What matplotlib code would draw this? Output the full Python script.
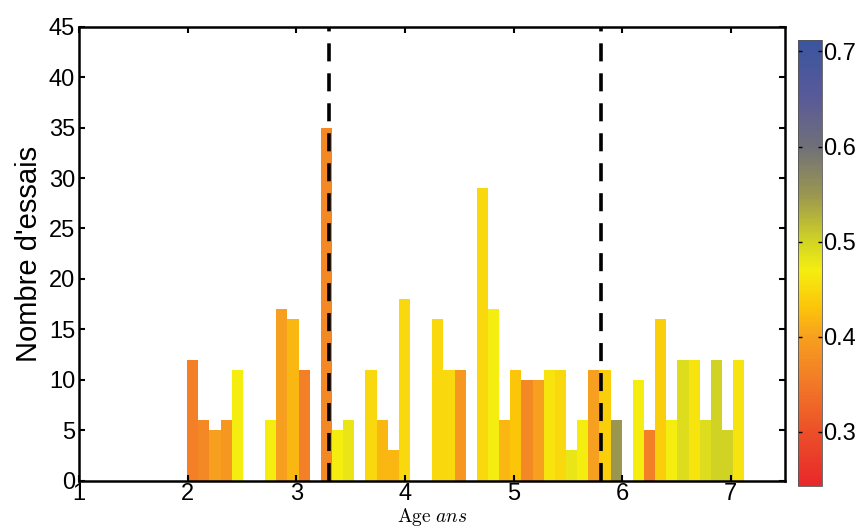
import numpy as np
import matplotlib
matplotlib.use("Agg")
import matplotlib.pyplot as plt
from matplotlib.colors import LinearSegmentedColormap, Normalize
from matplotlib.cm import ScalarMappable

# histogramme des essais par age (50 classes)
age_min = 1.993
age_max = 7.125
n_bins = 50
counts = [12, 6, 5, 6, 11, 0, 0, 6, 17, 16,
          11, 0, 35, 5, 6, 0, 11, 6, 3, 18,
          0, 0, 16, 11, 11, 0, 29, 17, 6, 11,
          10, 10, 11, 11, 3, 6, 11, 11, 6, 0,
          10, 5, 16, 6, 12, 12, 6, 12, 5, 12]
# valeur moyenne (couleur) par classe
values = [0.36, 0.37, 0.40, 0.39, 0.47, np.nan, np.nan, 0.47, 0.40, 0.42,
          0.36, np.nan, 0.37, 0.47, 0.48, np.nan, 0.45, 0.42, 0.42, 0.45,
          np.nan, np.nan, 0.45, 0.45, 0.39, np.nan, 0.45, 0.47, 0.42, 0.43,
          0.37, 0.40, 0.46, 0.45, 0.48, 0.47, 0.40, 0.44, 0.55, np.nan,
          0.47, 0.36, 0.44, 0.47, 0.49, 0.46, 0.49, 0.50, 0.50, 0.46]
vmin, vmax = 0.243, 0.712
dashed_ages = [3.296, 5.81]

cmap_pts = [(0.243, '#E8282A'), (0.30, '#EC5028'), (0.35, '#F27828'),
            (0.40, '#F7A01E'), (0.43, '#FCC40A'), (0.47, '#F5EE10'),
            (0.50, '#D2D424'), (0.55, '#9A9650'), (0.60, '#707078'),
            (0.65, '#5A5A98'), (0.712, '#3A55A0')]
cmap = LinearSegmentedColormap.from_list(
    'essais', [((v - vmin) / (vmax - vmin), c) for v, c in cmap_pts])
norm = Normalize(vmin, vmax)

plt.rcParams['font.family'] = ['Liberation Sans', 'DejaVu Sans']
plt.rcParams['mathtext.fontset'] = 'cm'

fig = plt.figure(figsize=(8.61, 5.28), dpi=100)
ax = fig.add_axes([0.0921, 0.0896, 0.8196, 0.8598])

edges = np.linspace(age_min, age_max, n_bins + 1)
width = edges[1] - edges[0]
for left, c, v in zip(edges[:-1], counts, values):
    if c > 0:
        ax.bar(left, c, width=width, align='edge', color=cmap(norm(v)),
               linewidth=0)

for a in dashed_ages:
    ax.axvline(a, color='black', lw=2.6, linestyle=(0, (5, 3.3)))

ax.set_xlim(1, 7.5)
ax.set_ylim(0, 45)
ax.set_xticks(range(1, 8))
ax.set_yticks(range(0, 46, 5))
ax.tick_params(direction='in', length=4, width=1.5, labelsize=17,
               top=True, right=True, pad=2)
ax.tick_params(axis='y', pad=3)
for s in ax.spines.values():
    s.set_linewidth(1.8)

ax.set_ylabel("Nombre d'essais", fontsize=21, labelpad=4)
ax.set_xlabel(r'$\mathrm{Age}\ ans$', fontsize=14, labelpad=0.5)

cax = fig.add_axes([0.9268, 0.0795, 0.0279, 0.8447])
sm = ScalarMappable(norm=norm, cmap=cmap)
cb = fig.colorbar(sm, cax=cax)
cb.set_ticks([0.3, 0.4, 0.5, 0.6, 0.7])
cb.set_ticklabels(['0.3', '0.4', '0.5', '0.6', '0.7'])
cb.outline.set_linewidth(0.6)
cb.outline.set_edgecolor('#555555')
cax.tick_params(direction='in', length=3, width=1, labelsize=17,
                left=True, right=True, pad=1)

fig.savefig('out.png', dpi=100)
